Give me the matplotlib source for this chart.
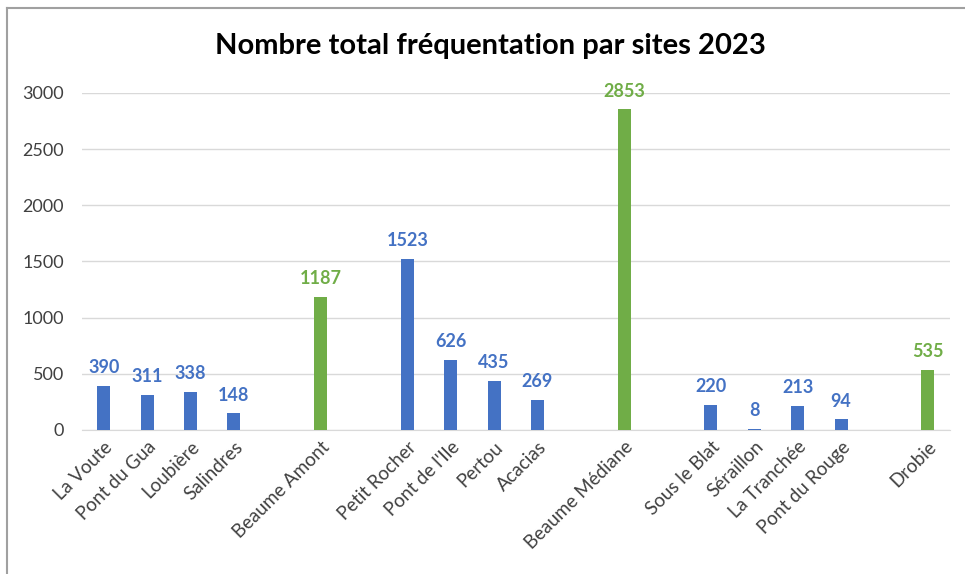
import matplotlib.pyplot as plt
from matplotlib.lines import Line2D

# Sites (empty strings are the blank separator slots of the original chart)
sites = ["La Voute", "Pont du Gua", "Loubière", "Salindres", "",
         "Beaume Amont", "",
         "Petit Rocher", "Pont de l'Ile", "Pertou", "Acacias", "",
         "Beaume Médiane", "",
         "Sous le Blat", "Séraillon", "La Tranchée", "Pont du Rouge", "",
         "Drobie"]
visits = [390, 311, 338, 148, None,
          1187, None,
          1523, 626, 435, 269, None,
          2853, None,
          220, 8, 213, 94, None,
          535]
# green = river totals (Beaume Amont / Médiane, Drobie)
is_total = [False, False, False, False, False,
            True, False,
            False, False, False, False, False,
            True, False,
            False, False, False, False, False,
            True]

BLUE = "#4472C4"
GREEN = "#70AD47"
plt.rcParams['font.family'] = ['Lato', 'DejaVu Sans']

fig = plt.figure(figsize=(9.65, 5.74), dpi=100)
ax = fig.add_axes([0.085, 0.251, 0.899, 0.587])

for i, (v, tot) in enumerate(zip(visits, is_total)):
    if v is None:
        continue
    col = GREEN if tot else BLUE
    ax.bar(i, v, width=0.3, color=col, zorder=3)
    ax.annotate(str(v), (i, v), xytext=(0, 7), textcoords="offset points",
                ha="center", va="bottom", color=col, fontsize=13,
                fontweight="bold")

ax.set_xlim(-0.5, len(sites) - 0.5)
ax.set_ylim(0, 3000)
ax.set_yticks(range(0, 3001, 500))
ax.set_xticks(range(len(sites)))
ax.set_xticklabels(sites, rotation=45, ha="right", rotation_mode="anchor",
                   fontsize=13.5, color="#404040")
ax.tick_params(axis="both", length=0, labelcolor="#404040")
ax.tick_params(axis="y", pad=13, labelsize=13)
ax.tick_params(axis="x", pad=6)
ax.grid(axis="y", color="#D9D9D9", linewidth=1, zorder=0)
for s in ["top", "right", "left"]:
    ax.spines[s].set_visible(False)
ax.spines["bottom"].set_color("#D9D9D9")

fig.suptitle("Nombre total fréquentation par sites 2023", x=0.508, y=0.942,
             fontsize=21, fontweight="bold", color="black")

# frame lines (top and left of the chart area)
fig.add_artist(Line2D([7/965, 1], [1 - 8/574, 1 - 8/574], color="#A0A0A0", lw=1.5))
fig.add_artist(Line2D([7/965, 7/965], [0, 1 - 8/574], color="#A0A0A0", lw=1.5))

fig.savefig("out.png", dpi=100)
